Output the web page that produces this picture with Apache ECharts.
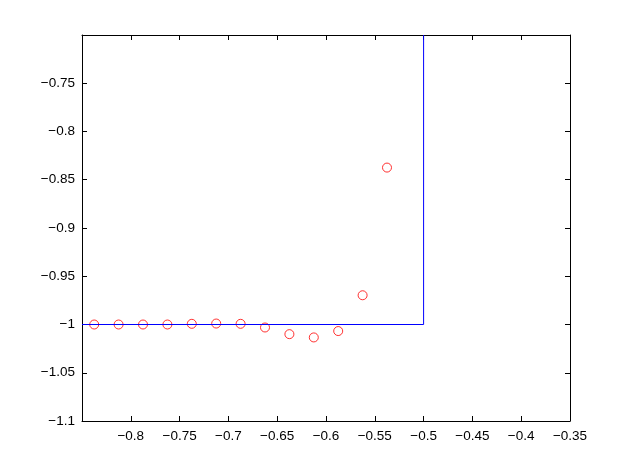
<!DOCTYPE html>
<html>
<head>
<meta charset="utf-8">
<script src="https://cdn.jsdelivr.net/npm/echarts@6/dist/echarts.min.js"></script>
<style>
  html, body { margin: 0; padding: 0; background: #fff; }
  #chart { width: 631px; height: 475px; }
</style>
</head>
<body>
<div id="chart"></div>
<script>
// step line (blue)
const stepX = [-0.85, -0.5, -0.5];
const stepY = [-1, -1, -0.7];
// sample points (red circles)
const pointX = [-0.8375, -0.8125, -0.7875, -0.7625, -0.7375, -0.7125, -0.6875,
  -0.6625, -0.6375, -0.6125, -0.5875, -0.5625, -0.5375];
const pointY = [-1.0, -1.0, -1.0, -1.0, -0.9993, -0.999, -0.9993,
  -1.0031, -1.01, -1.0134, -1.0068, -0.9697, -0.8374];

const fmt = function (v) {
  return String(+v.toFixed(2)).replace("-", "\u2212");
};

const font = { color: "#000", fontSize: 13.5, fontFamily: "Liberation Sans, Arial, sans-serif" };
const axisLine = { show: true, onZero: false, lineStyle: { color: "#000", width: 1 } };
const tick = { show: true, inside: true, length: 5, lineStyle: { color: "#000" } };

const myChart = echarts.init(document.getElementById("chart"), null, { renderer: "canvas" });
myChart.setOption({
  animation: false,
  backgroundColor: "#fff",
  grid: { left: 82, right: 61, top: 35, bottom: 54 },
  xAxis: [
    {
      type: "value", min: -0.85, max: -0.35, interval: 0.05, position: "bottom",
      axisLine: axisLine, axisTick: tick, splitLine: { show: false },
      axisLabel: Object.assign({ margin: 8, showMinLabel: false, formatter: fmt }, font),
    },
    {
      type: "value", min: -0.85, max: -0.35, interval: 0.05, position: "top",
      axisLine: axisLine, axisTick: tick, splitLine: { show: false },
      axisLabel: { show: false },
    },
  ],
  yAxis: [
    {
      type: "value", min: -1.1, max: -0.7, interval: 0.05, position: "left",
      axisLine: axisLine, axisTick: tick, splitLine: { show: false },
      axisLabel: Object.assign({ margin: 7, showMaxLabel: false, formatter: fmt }, font),
    },
    {
      type: "value", min: -1.1, max: -0.7, interval: 0.05, position: "right",
      axisLine: axisLine, axisTick: tick, splitLine: { show: false },
      axisLabel: { show: false },
    },
  ],
  series: [
    {
      type: "line",
      data: stepX.map((x, i) => [x, stepY[i]]),
      showSymbol: false,
      lineStyle: { color: "#0000ff", width: 1 },
      clip: true,
    },
    {
      type: "scatter",
      data: pointX.map((x, i) => [x, pointY[i]]),
      symbol: "circle",
      symbolSize: 9,
      itemStyle: { color: "rgba(0,0,0,0)", borderColor: "#ff0000", borderWidth: 1 },
    },
  ],
});
</script>
</body>
</html>
